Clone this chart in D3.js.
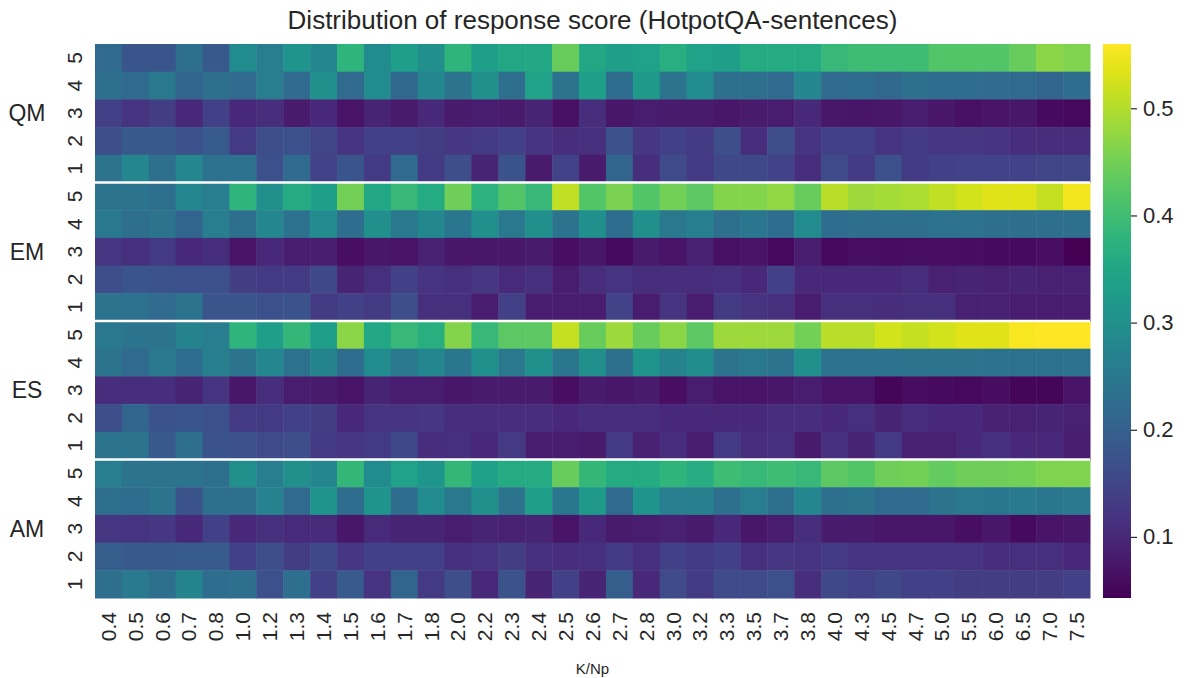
<!DOCTYPE html>
<html>
<head>
<meta charset="utf-8">
<script src="https://cdn.jsdelivr.net/npm/d3@7"></script>
<style>
  body { margin: 0; background: #fff; font-family: "Liberation Sans", Arial, sans-serif; }
  text { fill: #262626; }
</style>
</head>
<body>
<div id="chart"></div>
<script>
const kLabels = ['0.4','0.5','0.6','0.7','0.8','1.0','1.2','1.3','1.4','1.5','1.6','1.7','1.8','2.0','2.2','2.3','2.4','2.5','2.6','2.7','2.8','3.0','3.2','3.3','3.5','3.7','3.8','4.0','4.3','4.5','4.7','5.0','5.5','6.0','6.5','7.0','7.5']
const groups = ['QM', 'EM', 'ES', 'AM']
const scores = [5, 4, 3, 2, 1]

// rows are score 5,4,3,2,1 (top to bottom)
const QM = [
  [0.22,0.18,0.18,0.23,0.185,0.29,0.26,0.31,0.28,0.38,0.29,0.33,0.30,0.38,0.33,0.35,0.35,0.44,0.35,0.33,0.34,0.37,0.34,0.33,0.36,0.36,0.36,0.39,0.40,0.40,0.40,0.42,0.42,0.42,0.44,0.47,0.46],
  [0.23,0.22,0.25,0.21,0.23,0.22,0.26,0.22,0.30,0.22,0.29,0.215,0.28,0.24,0.30,0.23,0.34,0.24,0.33,0.225,0.32,0.24,0.29,0.23,0.23,0.22,0.28,0.22,0.225,0.215,0.23,0.225,0.225,0.22,0.22,0.21,0.225],
  [0.14,0.12,0.135,0.10,0.14,0.10,0.11,0.08,0.10,0.07,0.095,0.08,0.10,0.08,0.085,0.08,0.095,0.065,0.11,0.075,0.085,0.08,0.08,0.075,0.08,0.085,0.10,0.075,0.073,0.075,0.085,0.075,0.065,0.07,0.075,0.058,0.055],
  [0.165,0.185,0.185,0.17,0.19,0.13,0.165,0.17,0.15,0.12,0.14,0.14,0.135,0.125,0.13,0.14,0.12,0.11,0.115,0.17,0.125,0.14,0.13,0.165,0.11,0.165,0.12,0.14,0.14,0.12,0.13,0.125,0.125,0.12,0.11,0.11,0.11],
  [0.24,0.28,0.23,0.28,0.235,0.235,0.17,0.22,0.145,0.18,0.13,0.22,0.13,0.165,0.095,0.175,0.08,0.145,0.08,0.21,0.11,0.16,0.13,0.155,0.155,0.145,0.11,0.16,0.13,0.17,0.13,0.14,0.145,0.145,0.145,0.15,0.15]
]
const EM = [
  [0.24,0.24,0.23,0.28,0.26,0.38,0.30,0.36,0.33,0.45,0.35,0.39,0.36,0.445,0.375,0.42,0.39,0.51,0.42,0.455,0.42,0.45,0.43,0.465,0.465,0.475,0.44,0.505,0.485,0.49,0.495,0.51,0.525,0.535,0.535,0.515,0.55],
  [0.25,0.23,0.24,0.21,0.26,0.23,0.28,0.235,0.29,0.225,0.30,0.25,0.285,0.245,0.30,0.25,0.30,0.24,0.30,0.225,0.30,0.25,0.265,0.23,0.245,0.225,0.29,0.225,0.23,0.23,0.23,0.235,0.235,0.23,0.23,0.23,0.23],
  [0.125,0.115,0.13,0.10,0.11,0.07,0.10,0.085,0.085,0.063,0.075,0.07,0.09,0.075,0.075,0.075,0.08,0.063,0.075,0.058,0.08,0.07,0.09,0.065,0.07,0.055,0.085,0.055,0.063,0.06,0.063,0.063,0.06,0.058,0.058,0.063,0.045],
  [0.165,0.18,0.175,0.17,0.17,0.135,0.13,0.13,0.155,0.095,0.115,0.14,0.12,0.115,0.125,0.105,0.115,0.085,0.11,0.12,0.11,0.11,0.11,0.115,0.10,0.14,0.10,0.10,0.10,0.10,0.11,0.09,0.095,0.09,0.095,0.09,0.09],
  [0.24,0.235,0.22,0.24,0.18,0.18,0.17,0.175,0.13,0.14,0.13,0.165,0.115,0.115,0.085,0.14,0.085,0.085,0.085,0.145,0.085,0.12,0.085,0.13,0.12,0.115,0.085,0.115,0.115,0.11,0.115,0.115,0.09,0.09,0.085,0.085,0.085]
]
const ES = [
  [0.25,0.24,0.24,0.275,0.26,0.38,0.33,0.385,0.33,0.47,0.35,0.39,0.37,0.465,0.39,0.43,0.43,0.515,0.44,0.485,0.44,0.47,0.43,0.485,0.485,0.485,0.45,0.505,0.505,0.525,0.515,0.525,0.535,0.535,0.555,0.56,0.56],
  [0.24,0.22,0.25,0.225,0.265,0.24,0.28,0.235,0.275,0.225,0.29,0.25,0.28,0.245,0.30,0.25,0.30,0.245,0.30,0.23,0.31,0.275,0.295,0.24,0.25,0.24,0.30,0.235,0.235,0.235,0.24,0.24,0.24,0.235,0.235,0.235,0.235],
  [0.11,0.11,0.11,0.095,0.12,0.075,0.11,0.085,0.08,0.07,0.095,0.085,0.085,0.075,0.08,0.08,0.08,0.063,0.08,0.075,0.08,0.062,0.085,0.07,0.07,0.075,0.085,0.07,0.07,0.05,0.06,0.058,0.055,0.06,0.05,0.05,0.07],
  [0.165,0.21,0.175,0.18,0.17,0.13,0.13,0.14,0.135,0.10,0.12,0.12,0.125,0.11,0.11,0.11,0.11,0.10,0.11,0.11,0.11,0.10,0.10,0.10,0.10,0.11,0.11,0.10,0.115,0.095,0.11,0.10,0.10,0.09,0.09,0.095,0.09],
  [0.24,0.24,0.185,0.23,0.175,0.17,0.16,0.165,0.13,0.125,0.13,0.155,0.11,0.115,0.10,0.13,0.085,0.085,0.08,0.13,0.09,0.11,0.085,0.13,0.11,0.115,0.08,0.115,0.095,0.13,0.09,0.09,0.10,0.115,0.10,0.10,0.085]
]
const AM = [
  [0.26,0.24,0.24,0.24,0.23,0.30,0.26,0.30,0.28,0.385,0.29,0.34,0.315,0.385,0.335,0.36,0.36,0.44,0.385,0.36,0.36,0.38,0.365,0.40,0.39,0.40,0.39,0.43,0.42,0.445,0.45,0.435,0.445,0.445,0.45,0.46,0.46],
  [0.23,0.225,0.24,0.175,0.23,0.23,0.27,0.22,0.31,0.225,0.31,0.225,0.29,0.25,0.30,0.24,0.33,0.245,0.32,0.22,0.31,0.26,0.265,0.23,0.26,0.23,0.28,0.23,0.24,0.22,0.22,0.24,0.25,0.245,0.255,0.245,0.25],
  [0.125,0.12,0.125,0.10,0.14,0.10,0.115,0.105,0.105,0.075,0.105,0.095,0.095,0.085,0.095,0.09,0.095,0.07,0.10,0.08,0.085,0.09,0.08,0.10,0.075,0.085,0.11,0.08,0.08,0.075,0.075,0.075,0.063,0.075,0.058,0.07,0.075],
  [0.195,0.185,0.185,0.19,0.19,0.14,0.165,0.135,0.155,0.125,0.14,0.14,0.14,0.115,0.12,0.135,0.115,0.11,0.115,0.13,0.115,0.14,0.13,0.14,0.115,0.125,0.12,0.13,0.12,0.12,0.12,0.12,0.12,0.11,0.115,0.115,0.10],
  [0.23,0.255,0.23,0.275,0.225,0.23,0.17,0.23,0.14,0.19,0.12,0.21,0.13,0.165,0.10,0.175,0.095,0.14,0.095,0.195,0.10,0.16,0.13,0.16,0.16,0.17,0.11,0.155,0.145,0.155,0.14,0.14,0.135,0.135,0.135,0.135,0.14]
]
const groupData = { QM: QM, EM: EM, ES: ES, AM: AM }
const cbarTicks = [0.1, 0.2, 0.3, 0.4, 0.5]
const vmin = 0.043
const vmax = 0.56

const svgw = 1194
const svgh = 678
const mLeft = 95, mRight = 1090, mTop = 44, mBottom = 598
const font = '"Liberation Sans", Arial, sans-serif'

const svg = d3.select('#chart')
  .append('svg')
  .attr('width', svgw)
  .attr('height', svgh)

const rowKeys = []
groups.forEach(g => scores.forEach(s => rowKeys.push(g + '-' + s)))

const cells = []
groups.forEach(g => {
  groupData[g].forEach((row, i) => {
    row.forEach((v, j) => {
      cells.push({ row: g + '-' + scores[i], k: kLabels[j], value: v })
    })
  })
})

const xScale = d3.scaleBand().domain(kLabels).range([mLeft, mRight])
const yScale = d3.scaleBand().domain(rowKeys).range([mTop, mBottom])
const color = d3.scaleSequential(d3.interpolateViridis).domain([vmin, vmax])

svg.append('g')
  .selectAll('rect')
  .data(cells)
  .enter()
  .append('rect')
  .attr('x', d => xScale(d.k))
  .attr('y', d => yScale(d.row))
  .attr('width', xScale.bandwidth() + 0.5)
  .attr('height', yScale.bandwidth() + 0.5)
  .attr('fill', d => color(d.value))

// white separators between groups
groups.slice(1).forEach(g => {
  const y = yScale(g + '-5')
  svg.append('line')
    .attr('x1', mLeft).attr('x2', mRight)
    .attr('y1', y).attr('y2', y)
    .attr('stroke', '#fff')
    .attr('stroke-width', 2.5)
})

// x axis
const xAxis = svg.append('g')
  .attr('transform', `translate(0,${mBottom})`)
  .call(d3.axisBottom(xScale).tickSize(0).tickPadding(0))
xAxis.select('.domain').remove()
xAxis.selectAll('text')
  .attr('transform', 'rotate(-90)')
  .attr('x', -14)
  .attr('y', 0)
  .attr('dy', '0.35em')
  .style('text-anchor', 'end')
  .style('font-size', '21px')
  .style('font-family', font)
  .style('fill', '#262626')

svg.append('text')
  .attr('x', (mLeft + mRight) / 2)
  .attr('y', 674)
  .attr('text-anchor', 'middle')
  .style('font-size', '15px')
  .text('K/Np')

// y axis
const yAxis = svg.append('g')
  .attr('transform', `translate(${mLeft},0)`)
  .call(d3.axisLeft(yScale).tickSize(0).tickFormat(d => d.split('-')[1]))
yAxis.select('.domain').remove()
yAxis.selectAll('text')
  .attr('x', 0)
  .attr('y', 0)
  .attr('dy', '0.35em')
  .attr('transform', 'translate(-20,0) rotate(-90)')
  .style('text-anchor', 'middle')
  .style('font-size', '21px')
  .style('font-family', font)
  .style('fill', '#262626')

groups.forEach(g => {
  svg.append('text')
    .attr('x', 27)
    .attr('y', yScale(g + '-3') + yScale.bandwidth() / 2)
    .attr('dy', '0.35em')
    .attr('text-anchor', 'middle')
    .style('font-size', '23px')
    .text(g)
})

// title
svg.append('text')
  .attr('x', (mLeft + mRight) / 2)
  .attr('y', 29)
  .attr('text-anchor', 'middle')
  .style('font-size', '26px')
  .text('Distribution of response score (HotpotQA-sentences)')

// colorbar
const cbx = 1103, cbw = 28
const defs = svg.append('defs')
const grad = defs.append('linearGradient')
  .attr('id', 'cbar')
  .attr('x1', 0).attr('x2', 0).attr('y1', 1).attr('y2', 0)
d3.range(0, 1.0001, 0.05).forEach(t => {
  grad.append('stop')
    .attr('offset', t)
    .attr('stop-color', d3.interpolateViridis(t))
})
svg.append('rect')
  .attr('x', cbx).attr('y', mTop)
  .attr('width', cbw).attr('height', mBottom - mTop)
  .attr('fill', 'url(#cbar)')

const cScale = d3.scaleLinear().domain([vmin, vmax]).range([mBottom, mTop])
const cAxis = svg.append('g')
  .attr('transform', `translate(${cbx + cbw},0)`)
  .call(d3.axisRight(cScale).tickValues(cbarTicks).tickSize(6).tickPadding(6).tickFormat(d3.format('.1f')))
cAxis.select('.domain').remove()
cAxis.selectAll('line').attr('stroke', '#262626').attr('stroke-width', 1.2)
cAxis.selectAll('text')
  .style('font-size', '22px')
  .style('font-family', font)
  .style('fill', '#262626')
</script>
</body>
</html>
